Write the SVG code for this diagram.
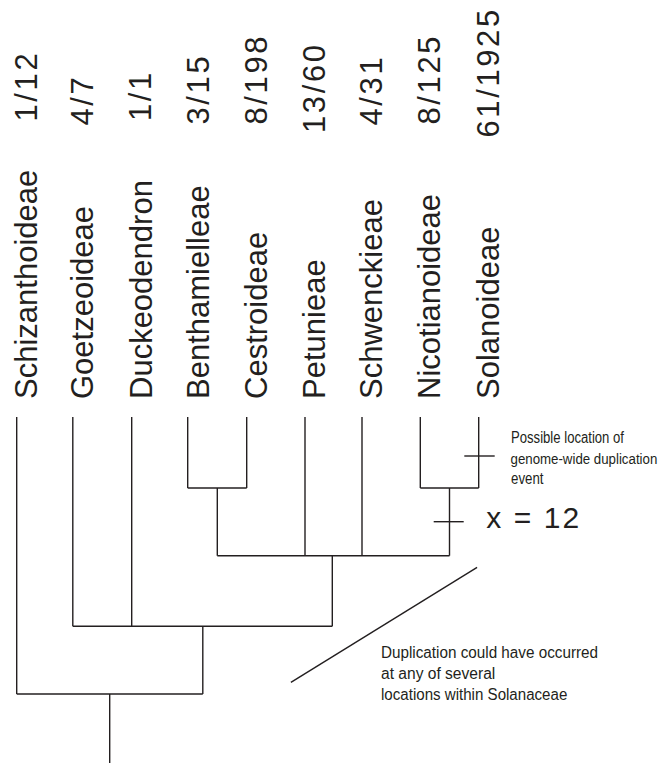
<svg xmlns="http://www.w3.org/2000/svg" width="664" height="763" viewBox="0 0 664 763">
<style>
.bg{fill:#ffffff}
.num{font-family:"Liberation Sans",Arial,sans-serif;font-size:31px;fill:#231f20;letter-spacing:2.6px}
.lab{font-family:"Liberation Sans",Arial,sans-serif;font-size:31px;fill:#231f20}
.ann{font-family:"Liberation Sans Narrow","Liberation Sans",Arial,sans-serif;font-size:16px;fill:#231f20}
.ann2{font-family:"Liberation Sans",Arial,sans-serif;font-size:15px;fill:#231f20}
.big{font-family:"Liberation Sans",Arial,sans-serif;font-size:30px;fill:#231f20}
.ln{stroke:#231f20;stroke-width:1.4;fill:none}
</style>
<rect class="bg" x="0" y="0" width="664" height="763"/>

<g id="schizanthoideae">
<text class="num" transform="translate(36.7,121.5) rotate(-90)">1/12</text>
<text class="lab" transform="translate(36.7,399) rotate(-90)">Schizanthoideae</text>
</g>
<g id="goetzeoideae">
<text class="num" transform="translate(92.5,125.5) rotate(-90)">4/7</text>
<text class="lab" transform="translate(93.3,399) rotate(-90)">Goetzeoideae</text>
</g>
<g id="duckeodendron">
<text class="num" transform="translate(150.5,121) rotate(-90)">1/1</text>
<text class="lab" transform="translate(151.7,399) rotate(-90)">Duckeodendron</text>
</g>
<g id="benthamielleae">
<text class="num" transform="translate(208.5,124.5) rotate(-90)">3/15</text>
<text class="lab" transform="translate(208.5,399) rotate(-90)">Benthamielleae</text>
</g>
<g id="cestroideae">
<text class="num" transform="translate(266.7,124.5) rotate(-90)">8/198</text>
<text class="lab" transform="translate(266.7,399) rotate(-90)">Cestroideae</text>
</g>
<g id="petunieae">
<text class="num" transform="translate(325,133) rotate(-90)">13/60</text>
<text class="lab" transform="translate(325,399) rotate(-90)">Petunieae</text>
</g>
<g id="schwenckieae">
<text class="num" transform="translate(382,125.5) rotate(-90)">4/31</text>
<text class="lab" transform="translate(382,399) rotate(-90)">Schwenckieae</text>
</g>
<g id="nicotianoideae">
<text class="num" transform="translate(440.3,124.5) rotate(-90)">8/125</text>
<text class="lab" transform="translate(440.3,399) rotate(-90)">Nicotianoideae</text>
</g>
<g id="solanoideae">
<text class="num" transform="translate(498.7,137.5) rotate(-90)">61/1925</text>
<text class="lab" transform="translate(498.7,399) rotate(-90)">Solanoideae</text>
</g>

<g id="connectors">
<line class="ln" x1="16.7" y1="417" x2="16.7" y2="694"/>
<line class="ln" x1="72.8" y1="417" x2="72.8" y2="626.3"/>
<line class="ln" x1="131.7" y1="417" x2="131.7" y2="626.3"/>
<line class="ln" x1="187.7" y1="417" x2="187.7" y2="488"/>
<line class="ln" x1="246.7" y1="417" x2="246.7" y2="488"/>
<line class="ln" x1="305" y1="417" x2="305" y2="555.7"/>
<line class="ln" x1="362" y1="417" x2="362" y2="555.7"/>
<line class="ln" x1="420.3" y1="417" x2="420.3" y2="488"/>
<line class="ln" x1="478.7" y1="417" x2="478.7" y2="488"/>
<line class="ln" x1="187.7" y1="488" x2="246.7" y2="488"/>
<line class="ln" x1="217.3" y1="488" x2="217.3" y2="555.7"/>
<line class="ln" x1="420.3" y1="488" x2="478.7" y2="488"/>
<line class="ln" x1="449.5" y1="488" x2="449.5" y2="555.7"/>
<line class="ln" x1="217.3" y1="555.7" x2="449.5" y2="555.7"/>
<line class="ln" x1="332.3" y1="555.7" x2="332.3" y2="626.3"/>
<line class="ln" x1="72.8" y1="626.3" x2="332.3" y2="626.3"/>
<line class="ln" x1="202.8" y1="626.3" x2="202.8" y2="694"/>
<line class="ln" x1="16.7" y1="694" x2="202.8" y2="694"/>
<line class="ln" x1="109.7" y1="694" x2="109.7" y2="763"/>
<line class="ln" x1="464.3" y1="456" x2="494.7" y2="456"/>
<line class="ln" x1="433.7" y1="521.7" x2="463.7" y2="521.7"/>
<line class="ln" x1="477.1" y1="567.3" x2="290.9" y2="682.3"/>
</g>

<g id="annotations">
<text class="ann" x="511" y="443.3" textLength="113" lengthAdjust="spacingAndGlyphs">Possible location of</text>
<text class="ann2" transform="translate(510.5,464) scale(0.885,1)">genome-wide duplication</text>
<text class="ann" x="511" y="484.3" textLength="32.5" lengthAdjust="spacingAndGlyphs">event</text>
<text class="big" x="486.3" y="528.3" textLength="93" lengthAdjust="spacing">x = 12</text>
<text class="ann" x="381" y="658.3" textLength="217" lengthAdjust="spacingAndGlyphs">Duplication could have occurred</text>
<text class="ann" x="381" y="679.3" textLength="114.3" lengthAdjust="spacingAndGlyphs">at any of several</text>
<text class="ann" x="381" y="700" textLength="186.3" lengthAdjust="spacingAndGlyphs">locations within Solanaceae</text>
</g>
</svg>
